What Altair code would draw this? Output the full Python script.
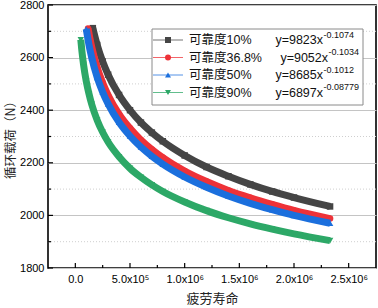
import altair as alt
import pandas as pd

# ---- data ----
x_black = [1.6e5, 2e5, 2.5e5, 3e5, 4e5, 5e5, 6e5, 7e5, 8e5, 1e6, 1.2e6, 1.4e6, 1.6e6, 1.8e6, 2e6, 2.33e6]
y_black = [2712, 2648, 2585, 2535, 2458, 2400, 2353, 2315, 2282, 2228, 2184, 2149, 2118, 2091, 2068, 2034]
x_red = [1.16e5, 1.5e5, 2e5, 2.5e5, 3e5, 4e5, 5e5, 6e5, 7e5, 8e5, 1e6, 1.2e6, 1.4e6, 1.6e6, 1.8e6, 2e6, 2.33e6]
y_red = [2711, 2640, 2562, 2504, 2457, 2385, 2331, 2287, 2251, 2220, 2169, 2129, 2095, 2067, 2042, 2019, 1988]
x_blue = [1e5, 1.25e5, 1.5e5, 2e5, 2.5e5, 3e5, 4e5, 5e5, 6e5, 7e5, 8e5, 1e6, 1.2e6, 1.4e6, 1.6e6, 1.8e6, 2e6, 2.33e6]
y_blue = [2709, 2648, 2600, 2525, 2469, 2424, 2354, 2302, 2260, 2225, 2195, 2146, 2107, 2074, 2046, 2022, 2000, 1970]
x_green = [5e4, 6e4, 7.5e4, 1e5, 1.25e5, 1.5e5, 2e5, 2.5e5, 3e5, 4e5, 5e5, 6e5, 7e5, 8e5, 1e6, 1.2e6, 1.4e6, 1.6e6, 1.8e6, 2e6, 2.33e6]
y_green = [2668, 2625, 2574, 2510, 2462, 2422, 2362, 2316, 2279, 2223, 2179, 2145, 2116, 2091, 2051, 2018, 1991, 1968, 1948, 1930, 1904]

series_labels = ["可靠度10%", "可靠度36.8%", "可靠度50%", "可靠度90%"]
series_eqs = ["y=9823x", "y=9052x", "y=8685x", "y=6897x"]
series_exps = ["-0.1074", "-0.1034", "-0.1012", "-0.08779"]
series_colors = ["#454545", "#ee3238", "#1b6fdd", "#2da867"]
series_shapes = ["square", "circle", "triangle-up", "triangle-down"]

x_ticks = [0, 500000, 1000000, 1500000, 2000000, 2500000]
x_tick_labels = ["0.0", "5.0x10⁵", "1.0x10⁶", "1.5x10⁶", "2.0x10⁶", "2.5x10⁶"]
x_minor = [250000, 750000, 1250000, 1750000, 2250000]
y_ticks = [1800, 2000, 2200, 2400, 2600, 2800]
y_minor = [1900, 2100, 2300, 2500, 2700]

x_title = "疲劳寿命"
y_title = "循环载荷（N）"

W, H = 328, 263
NUM_FONT = "Liberation Sans"
CJK_FONT = "Noto Sans CJK SC"

label_expr = "''"
for v, t in reversed(list(zip(x_ticks, x_tick_labels))):
    label_expr = f"datum.value == {v} ? '{t}' : ({label_expr})"

xscale = alt.Scale(domain=[-250000, 2750000], nice=False, zero=False)
yscale = alt.Scale(domain=[1800, 2800], nice=False, zero=False)

x_axis = alt.Axis(values=x_ticks, labelExpr=label_expr, grid=False, domain=False,
                  ticks=False, labelPadding=5, labelFont=NUM_FONT, labelFontSize=11,
                  labelColor="#000", title=x_title, titleFont=CJK_FONT, titleFontSize=13,
                  titleFontWeight="normal", titleColor="#222", titlePadding=8)
y_axis = alt.Axis(values=y_ticks, format="d", grid=True, gridColor="#c4c4c4", gridWidth=1,
                  domain=False, ticks=False, labelPadding=4, labelFont=NUM_FONT,
                  labelFontSize=11, labelColor="#000", title=y_title, titleFont=CJK_FONT,
                  titleFontSize=12.5, titleFontWeight="normal", titleColor="#222", titlePadding=2)

def X(field="x"):
    return alt.X(f"{field}:Q", scale=xscale, axis=x_axis)

def Y(field="y"):
    return alt.Y(f"{field}:Q", scale=yscale, axis=y_axis)

layers = []

# minor dotted grid
layers.append(
    alt.Chart(pd.DataFrame({"y": y_minor})).mark_rule(color="#cfcfcf", strokeDash=[1, 2], strokeWidth=1)
    .encode(y=Y(), x=alt.value(0), x2=alt.value(W))
)

all_x = [x_black, x_red, x_blue, x_green]
all_y = [y_black, y_red, y_blue, y_green]
for xs, ys, col, shp in zip(all_x, all_y, series_colors, series_shapes):
    df = pd.DataFrame({"x": xs, "y": ys})
    base = alt.Chart(df)
    layers.append(base.mark_line(color=col, strokeWidth=7, interpolate="monotone")
                  .encode(x=X(), y=Y()))
    layers.append(base.mark_point(color=col, shape=shp, filled=True, size=42, opacity=1)
                  .encode(x=X(), y=Y()))

# inward ticks
layers.append(alt.Chart(pd.DataFrame({"y": y_ticks})).mark_rule(color="#000", strokeWidth=1.2)
              .encode(y=Y(), x=alt.value(0), x2=alt.value(5)))
layers.append(alt.Chart(pd.DataFrame({"y": y_minor})).mark_rule(color="#000", strokeWidth=1.2)
              .encode(y=Y(), x=alt.value(0), x2=alt.value(3)))
layers.append(alt.Chart(pd.DataFrame({"x": x_ticks})).mark_rule(color="#000", strokeWidth=1.2)
              .encode(x=X(), y=alt.value(H), y2=alt.value(H - 5)))
layers.append(alt.Chart(pd.DataFrame({"x": x_minor})).mark_rule(color="#000", strokeWidth=1.2)
              .encode(x=X(), y=alt.value(H), y2=alt.value(H - 3)))

# legend box
one = pd.DataFrame({"a": [0]})
layers.append(alt.Chart(one).mark_rect(fill="white", stroke="#8a8a8a", strokeWidth=1)
              .encode(x=alt.value(104), x2=alt.value(315), y=alt.value(24), y2=alt.value(100)))
row_y = [35, 52.5, 70, 87.5]
eq_right = [275, 280, 275, 275]
for lab, eq, ex, col, shp, ry, er in zip(series_labels, series_eqs, series_exps,
                                         series_colors, series_shapes, row_y, eq_right):
    c = alt.Chart(one)
    layers.append(c.mark_rule(color=col, strokeWidth=1, opacity=0.75)
                  .encode(x=alt.value(105), x2=alt.value(135), y=alt.value(ry)))
    layers.append(c.mark_point(color=col, shape=shp, filled=True, size=36, opacity=1)
                  .encode(x=alt.value(120), y=alt.value(ry)))
    layers.append(c.mark_text(align="left", baseline="middle", font=f"{NUM_FONT}, {CJK_FONT}",
                              fontSize=12.5, color="#111")
                  .encode(x=alt.value(141), y=alt.value(ry), text=alt.value(lab)))
    layers.append(c.mark_text(align="right", baseline="middle", font=NUM_FONT,
                              fontSize=12.5, color="#111")
                  .encode(x=alt.value(er), y=alt.value(ry), text=alt.value(eq)))
    layers.append(c.mark_text(align="left", baseline="middle", font=NUM_FONT,
                              fontSize=9, color="#111")
                  .encode(x=alt.value(er + 0.5), y=alt.value(ry - 5.5), text=alt.value(ex)))

chart = alt.layer(*layers).properties(
    width=W, height=H,
    autosize=alt.AutoSizeParams(type="none"),
    padding={"left": 48, "top": 5, "right": 2, "bottom": 40},
    background="white",
).configure_view(stroke="#000", strokeWidth=1.6)

chart.save("out.html", embed_options={"renderer": "svg", "actions": False})
